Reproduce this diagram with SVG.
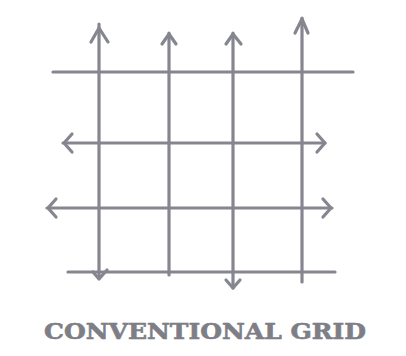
<svg xmlns="http://www.w3.org/2000/svg" width="406" height="356" viewBox="0 0 406 356">
<style>
.l{stroke:#85868f;stroke-width:3.2;fill:none;stroke-linecap:round;stroke-linejoin:round}
.t{font-family:"DejaVu Serif",serif;font-weight:bold;font-size:22px;fill:#7d7e86;stroke:#7d7e86;stroke-width:0.6}
</style>
<rect width="406" height="356" fill="#ffffff"/>
<g id="connectors">
<path class="l" d="M53 72 L353 72"/>
<path class="l" d="M63 143 L325 143"/>
<path class="l" d="M47 208 L332 208"/>
<path class="l" d="M68 272 L335 272"/>
<path class="l" d="M99 24 L99 278"/>
<path class="l" d="M169 33 L169 275"/>
<path class="l" d="M233 33 L233 288"/>
<path class="l" d="M302 18 L302 282"/>
<path class="l" d="M91 42 L99 28 L108 42"/>
<path class="l" d="M162 44 L169 34 L176 44"/>
<path class="l" d="M226 44 L233 34 L241 44"/>
<path class="l" d="M295 33 L302 19 L308 33"/>
<path class="l" d="M72 134 L64 143 L72 152"/>
<path class="l" d="M317 134 L325 143 L317 152"/>
<path class="l" d="M56 199 L48 208 L56 217"/>
<path class="l" d="M323 199 L331 208 L323 217"/>
<path class="l" d="M93 272 L99 279 L107 270"/>
<path class="l" d="M226 280 L233 288 L240 280"/>
</g>
<g id="label">
<text class="t" x="44" y="339" textLength="322" lengthAdjust="spacingAndGlyphs">CONVENTIONAL GRID</text>
</g>
</svg>
